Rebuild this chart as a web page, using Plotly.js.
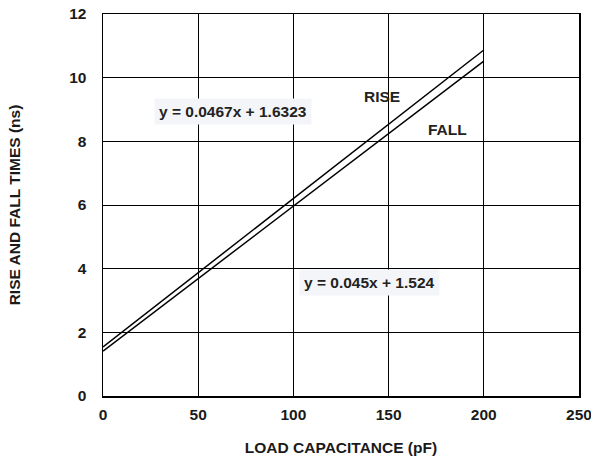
<!DOCTYPE html>
<html><head><meta charset="utf-8">
<script src="https://cdn.plot.ly/plotly-3.0.1.min.js"></script>
<style>body{margin:0;background:#fff}#c{width:591px;height:457px}</style>
</head><body><div id="c"></div>
<script>
const loadPF = [0, 200];
const riseNs = [1.54, 10.87];
const fallNs = [1.41, 10.52];
const xTicks = [0, 50, 100, 150, 200, 250];
const yTicks = [0, 2, 4, 6, 8, 10, 12];
const labels = [
  {text: 'y = 0.0467x + 1.6323', x: 68.3, y: 8.95, bg: '#f4f5f8'},
  {text: 'RISE', x: 146.5, y: 9.41, bg: null},
  {text: 'FALL', x: 180.9, y: 8.37, bg: null},
  {text: 'y = 0.045x + 1.524', x: 140.2, y: 3.55, bg: '#f4f5f8'}
];
const F = 'Arial';
const fnt = {family: F, size: 15.5, color: '#1a1a1a', weight: 700};
const traces = [
  {x: loadPF, y: riseNs, mode: 'lines', line: {color: '#000', width: 1.5}, name: 'RISE'},
  {x: loadPF, y: fallNs, mode: 'lines', line: {color: '#000', width: 1.5}, name: 'FALL'}
];
const ax = {
  showgrid: true, gridcolor: '#000', gridwidth: 1,
  showline: true, linecolor: '#000', linewidth: 1.5, mirror: true,
  zeroline: false, ticks: '', fixedrange: true,
  ticklabeloverflow: 'allow',
  tickfont: fnt
};
const layout = {
  width: 591, height: 457,
  margin: {l: 103, r: 12, t: 14, b: 61},
  paper_bgcolor: '#fff', plot_bgcolor: '#fff',
  showlegend: false,
  xaxis: Object.assign({}, ax, {range: [0, 250], tickvals: xTicks, ticklabelstandoff: 4,
    title: {text: 'LOAD CAPACITANCE (pF)', standoff: 20, font: fnt}}),
  yaxis: Object.assign({}, ax, {range: [0, 12], tickvals: yTicks, ticklabelstandoff: 12,
    title: {text: 'RISE AND FALL TIMES (ns)', standoff: 44, font: fnt}}),
  annotations: labels.map(l => ({
    text: l.text, x: l.x, y: l.y, xref: 'x', yref: 'y', showarrow: false,
    font: Object.assign({}, fnt, {color: '#222'}),
    bgcolor: l.bg || 'rgba(0,0,0,0)', borderpad: 4
  }))
};
Plotly.newPlot('c', traces, layout, {displayModeBar: false, staticPlot: true});
</script></body></html>
